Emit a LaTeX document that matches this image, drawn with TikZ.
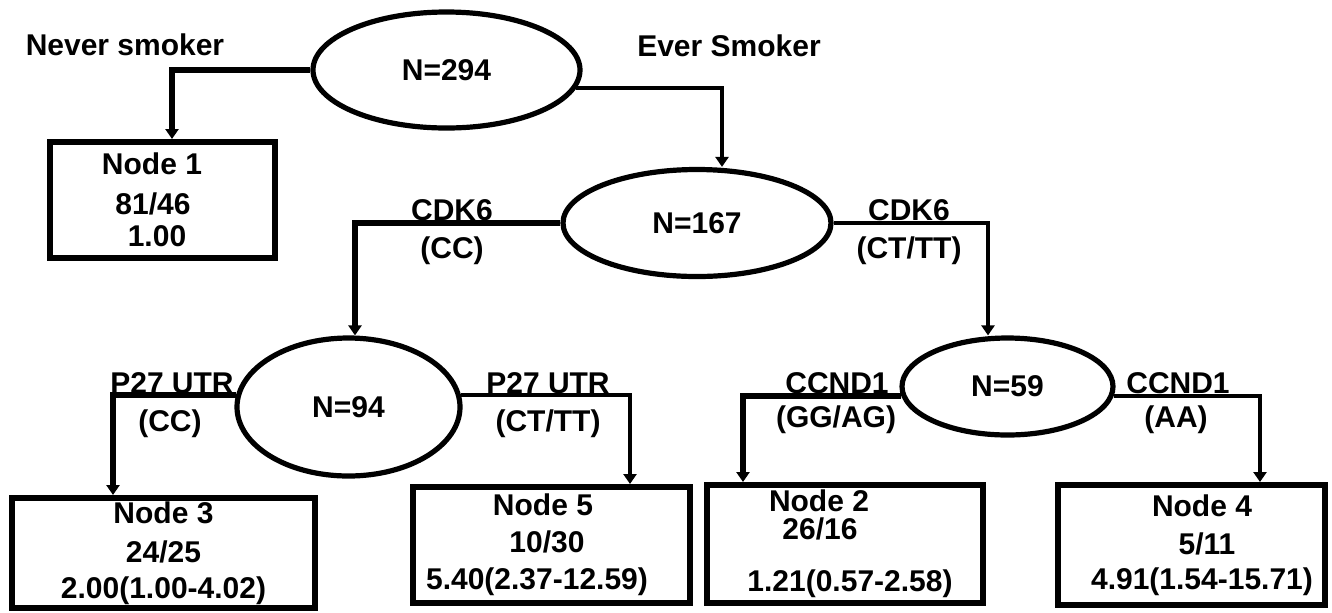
\documentclass[tikz,border=0pt]{standalone}
\usepackage{fontspec}
\setmainfont{Liberation Sans}
\usetikzlibrary{arrows.meta,%
                shapes.geometric}

\begin{document}
\begin{tikzpicture}[x=0.5pt,y=-0.5pt,
  every node/.style={font=\fontsize{15pt}{18pt}\selectfont\bfseries},
  splitnode/.style={ellipse,draw,line width=2.6pt,inner sep=0pt},
  leafbox/.style={rectangle,draw,line width=3pt,inner sep=0pt,align=center},
  leftarm/.style={line width=3pt,-{Triangle[width=6.5pt,length=5pt]}},
  rightarm/.style={line width=2pt,-{Triangle[width=6.5pt,length=5pt]}},
  cond/.style={inner sep=0pt}]
\useasboundingbox (0,0) rectangle (1332,612);
\node[splitnode,minimum width=133.5pt,minimum height=58pt] (n294) at (446.5,70) {N=294};
\node[splitnode,minimum width=134pt,minimum height=53.5pt] (n167) at (697,223) {N=167};
\node[splitnode,minimum width=111.5pt,minimum height=69pt] (n94) at (348.5,407) {N=94};
\node[splitnode,minimum width=105.5pt,minimum height=48.5pt] (n59) at (1007.5,386.5) {N=59};
\node[leafbox,minimum width=112.5pt,minimum height=58pt] (node1) at (162.5,200)
  {Node 1\hspace*{10.5pt}\null\\[2pt]81/46\hspace*{9.5pt}\null\\[-2pt]1.00\hspace*{5.5pt}\null};
\node[leafbox,minimum width=151.5pt,minimum height=55pt] (node3) at (163.5,553)
  {Node 3\\[1.5pt]24/25\\2.00(1.00-4.02)};
\node[leafbox,minimum width=138.5pt,minimum height=58pt] (node5) at (551.5,545)
  {Node 5\hspace*{8.5pt}\null\\[0.5pt]10/30\hspace*{4.5pt}\null\\[0.5pt]5.40(2.37-12.59)\hspace*{14.5pt}\null};
\node[leafbox,minimum width=138pt,minimum height=59pt] (node2) at (845,544)
  {Node 2\hspace*{26pt}\null\\[-4pt]26/16\hspace*{25pt}\null\\[8pt]\hspace*{5pt}1.21(0.57-2.58)};
\node[leafbox,minimum width=133.5pt,minimum height=60pt] (node4) at (1191.5,545)
  {\hspace*{10.5pt}Node 4\\[1pt]\hspace*{15.5pt}5/11\\[-0.5pt]\hspace*{10.5pt}4.91(1.54-15.71)};
\node[cond] (never) at (125,45) {Never smoker};
\node[cond] (ever) at (729,46) {Ever Smoker};
\node[cond] (cdk6cc) at (452,210) {CDK6};
\node[cond] (cdk6ccg) at (452,251) {(CC)};
\node[cond] (cdk6ct) at (909,210) {CDK6};
\node[cond] (cdk6ctg) at (909,251) {(CT/TT)};
\node[cond] (p27cc) at (172,383) {P27 UTR};
\node[cond] (p27ccg) at (170,424) {(CC)};
\node[cond] (p27ct) at (548,383) {P27 UTR};
\node[cond] (p27ctg) at (548,424) {(CT/TT)};
\node[cond] (ccndgg) at (837,383) {CCND1};
\node[cond] (ccndggg) at (836,420) {(GG/AG)};
\node[cond] (ccndaa) at (1178,383) {CCND1};
\node[cond] (ccndaag) at (1176,420) {(AA)};
\draw[leftarm] (n294.west) -| ([xshift=4.75pt]node1.north);
\draw[rightarm] (n294.-8) -| ([xshift=12.5pt]n167.north);
\draw[leftarm] (n167.west) -| ([xshift=3.25pt]n94.north);
\draw[rightarm] (n167.east) -| ([xshift=-9.75pt]n59.north);
\draw[leftarm] (n94.174) -| ([xshift=-25.25pt]node3.north);
\draw[rightarm] (n94.6) -| ([xshift=39.25pt]node5.north);
\draw[leftarm] (n59.-175) -| ([xshift=-51pt]node2.north);
\draw[rightarm] (n59.-5) -| ([xshift=34.25pt]node4.north);
\end{tikzpicture}
\end{document}
